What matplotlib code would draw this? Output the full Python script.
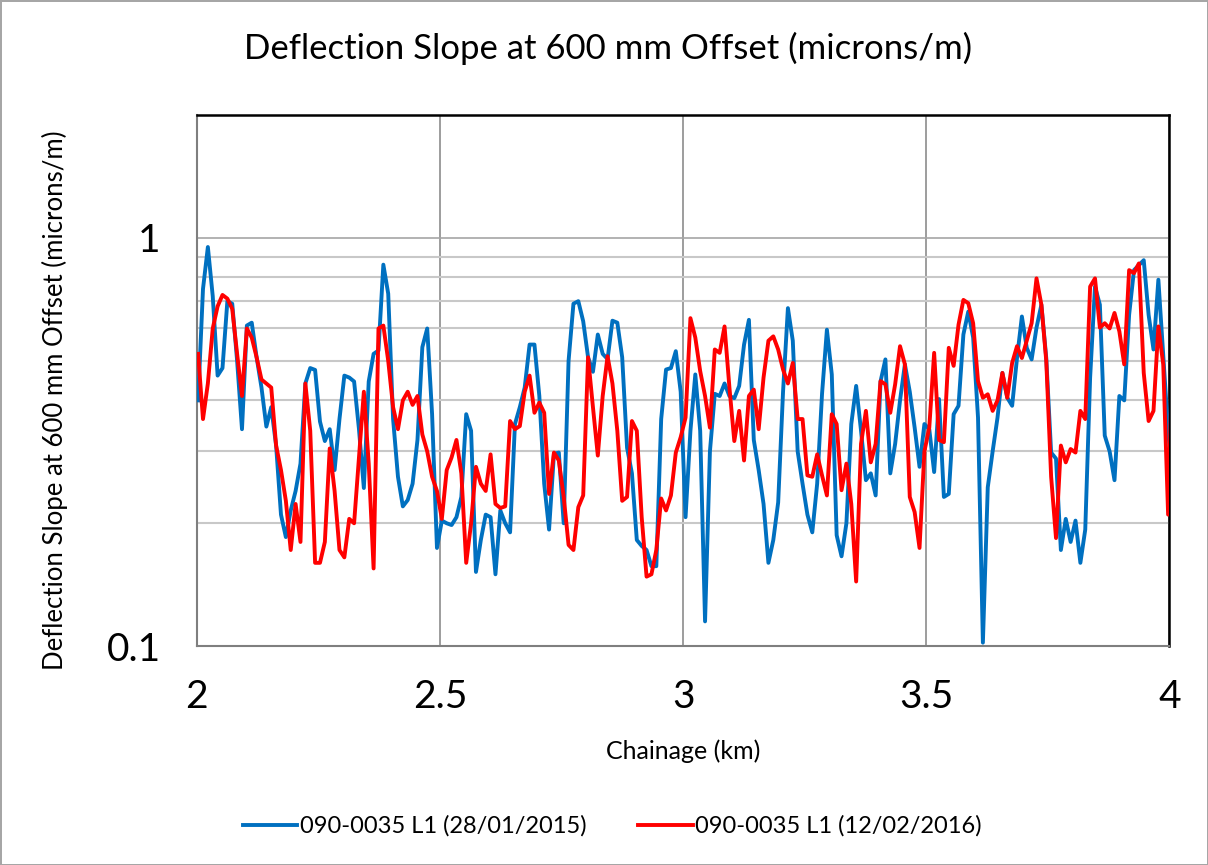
import numpy as np
import matplotlib
matplotlib.use('Agg')
import matplotlib.pyplot as plt
from matplotlib.ticker import FixedLocator, NullFormatter

plt.rcParams['font.family'] = ['Lato', 'DejaVu Sans']

# chainage of each reading (km), ~10 m spacing
chainage = np.linspace(2.0025, 4.0075, 201)

slope_2015 = [
    0.40, 0.75, 0.95, 0.72, 0.46, 0.48, 0.70, 0.69, 0.50, 0.34,
    0.61, 0.62, 0.51, 0.43, 0.345, 0.385, 0.31, 0.21, 0.185, 0.215,
    0.24, 0.28, 0.44, 0.48, 0.475, 0.355, 0.318, 0.34, 0.27, 0.36,
    0.46, 0.455, 0.445, 0.34, 0.244, 0.445, 0.52, 0.53, 0.86, 0.73,
    0.36, 0.26, 0.22, 0.228, 0.25, 0.32, 0.54, 0.60, 0.37, 0.174,
    0.203, 0.20, 0.198, 0.207, 0.232, 0.37, 0.337, 0.152, 0.182, 0.21,
    0.207, 0.15, 0.215, 0.20, 0.19, 0.35, 0.385, 0.43, 0.548, 0.548,
    0.41, 0.25, 0.193, 0.296, 0.298, 0.20, 0.50, 0.69, 0.70, 0.625,
    0.51, 0.47, 0.58, 0.52, 0.505, 0.627, 0.62, 0.51, 0.306, 0.265,
    0.182, 0.176, 0.172, 0.157, 0.157, 0.36, 0.476, 0.48, 0.528, 0.42,
    0.207, 0.337, 0.463, 0.337, 0.115, 0.30, 0.415, 0.41, 0.44, 0.41,
    0.405, 0.434, 0.548, 0.63, 0.32, 0.27, 0.223, 0.16, 0.182, 0.225,
    0.42, 0.673, 0.56, 0.30, 0.25, 0.21, 0.19, 0.25, 0.415, 0.596,
    0.463, 0.187, 0.166, 0.20, 0.35, 0.434, 0.337, 0.255, 0.265, 0.234,
    0.445, 0.504, 0.265, 0.313, 0.40, 0.49, 0.42, 0.343, 0.275, 0.35,
    0.34, 0.267, 0.403, 0.232, 0.236, 0.37, 0.388, 0.58, 0.66, 0.57,
    0.363, 0.102, 0.245, 0.30, 0.363, 0.467, 0.406, 0.388, 0.508, 0.642,
    0.538, 0.504, 0.603, 0.686, 0.508, 0.298, 0.288, 0.172, 0.205, 0.18,
    0.203, 0.16, 0.193, 0.455, 0.76, 0.686, 0.328, 0.30, 0.255, 0.41,
    0.40, 0.648, 0.834, 0.858, 0.882, 0.648, 0.533, 0.79, 0.518, 0.337,
    0.25,
]

slope_2016 = [
    0.52, 0.36, 0.44, 0.60, 0.68, 0.725, 0.71, 0.67, 0.52, 0.41,
    0.60, 0.57, 0.51, 0.45, 0.44, 0.43, 0.31, 0.27, 0.227, 0.172,
    0.223, 0.18, 0.44, 0.337, 0.16, 0.16, 0.18, 0.305, 0.24, 0.172,
    0.165, 0.205, 0.20, 0.29, 0.42, 0.28, 0.155, 0.60, 0.61, 0.50,
    0.385, 0.34, 0.40, 0.42, 0.39, 0.41, 0.33, 0.30, 0.26, 0.24,
    0.205, 0.27, 0.29, 0.32, 0.265, 0.16, 0.20, 0.275, 0.25, 0.24,
    0.295, 0.223, 0.218, 0.22, 0.356, 0.34, 0.346, 0.42, 0.46, 0.373,
    0.395, 0.373, 0.236, 0.298, 0.285, 0.232, 0.177, 0.172, 0.219, 0.234,
    0.51, 0.385, 0.293, 0.41, 0.513, 0.44, 0.337, 0.227, 0.232, 0.356,
    0.337, 0.207, 0.148, 0.15, 0.172, 0.23, 0.215, 0.234, 0.298, 0.325,
    0.363, 0.636, 0.57, 0.472, 0.41, 0.343, 0.533, 0.523, 0.607, 0.43,
    0.318, 0.377, 0.285, 0.41, 0.425, 0.34, 0.455, 0.56, 0.574, 0.533,
    0.476, 0.44, 0.494, 0.36, 0.36, 0.262, 0.26, 0.295, 0.262, 0.234,
    0.37, 0.35, 0.241, 0.28, 0.223, 0.144, 0.313, 0.377, 0.282, 0.313,
    0.446, 0.438, 0.373, 0.438, 0.543, 0.49, 0.232, 0.213, 0.174, 0.30,
    0.343, 0.523, 0.32, 0.316, 0.538, 0.486, 0.613, 0.705, 0.692, 0.618,
    0.446, 0.406, 0.414, 0.377, 0.40, 0.467, 0.406, 0.494, 0.543, 0.508,
    0.56, 0.618, 0.796, 0.686, 0.50, 0.26, 0.184, 0.31, 0.282, 0.304,
    0.298, 0.377, 0.36, 0.76, 0.796, 0.603, 0.618, 0.60, 0.655, 0.59,
    0.49, 0.834, 0.82, 0.866, 0.467, 0.356, 0.377, 0.607, 0.49, 0.21,
    0.6,
]

label_2015 = '090-0035 L1 (28/01/2015)'
label_2016 = '090-0035 L1 (12/02/2016)'
xticks = [2, 2.5, 3, 3.5, 4]
yticks = [0.1, 1]
yminor = [0.2, 0.3, 0.4, 0.5, 0.6, 0.7, 0.8, 0.9]

fig = plt.figure(figsize=(12.08, 8.65), dpi=100)
fig.patch.set_edgecolor('#a6a6a6')
fig.patch.set_linewidth(2)
ax = fig.add_axes([0.163, 0.253, 0.805, 0.614])

ax.plot(chainage, slope_2015, color='#0070C0', lw=2.8, label=label_2015, zorder=3)
ax.plot(chainage, slope_2016, color='#FF0000', lw=2.8, label=label_2016, zorder=3)

ax.set_yscale('log')
ax.set_xlim(2, 4)
ax.set_ylim(0.1, 2)
ax.set_xticks(xticks)
ax.set_xticklabels(['2', '2.5', '3', '3.5', '4'])
ax.set_yticks(yticks)
ax.set_yticklabels(['0.1', '1'])
ax.yaxis.set_minor_locator(FixedLocator(yminor))
ax.yaxis.set_minor_formatter(NullFormatter())
ax.tick_params(axis='both', which='both', length=0, labelsize=28)
ax.tick_params(axis='y', pad=26)
ax.tick_params(axis='x', pad=24)

ax.grid(True, axis='x', which='major', color='#8c8c8c', lw=1.2)
ax.grid(True, axis='y', which='major', color='#a6a6a6', lw=1.2)
ax.grid(True, axis='y', which='minor', color='#c8c8c8', lw=1.5)
ax.set_axisbelow(True)

for side in ['top', 'right']:
    ax.spines[side].set_color('black')
    ax.spines[side].set_linewidth(1.8)
for side in ['left', 'bottom']:
    ax.spines[side].set_color('#7f7f7f')
    ax.spines[side].set_linewidth(1.5)

ax.set_xlabel('Chainage (km)', fontsize=18)
ax.set_ylabel('Deflection Slope at 600 mm Offset (microns/m)', fontsize=18.5)
ax.xaxis.set_label_coords(0.5, -0.175)
ax.yaxis.set_label_coords(-0.133, 0.463)
fig.text(0.503, 0.944, 'Deflection Slope at 600 mm Offset (microns/m)',
         fontsize=25, ha='center', va='center')

fig.legend(loc='center', bbox_to_anchor=(0.507, 0.045), ncol=2, frameon=False,
           fontsize=17, handlelength=2.3, columnspacing=2.2, handletextpad=0.1)

fig.savefig('out.png', dpi=100)
